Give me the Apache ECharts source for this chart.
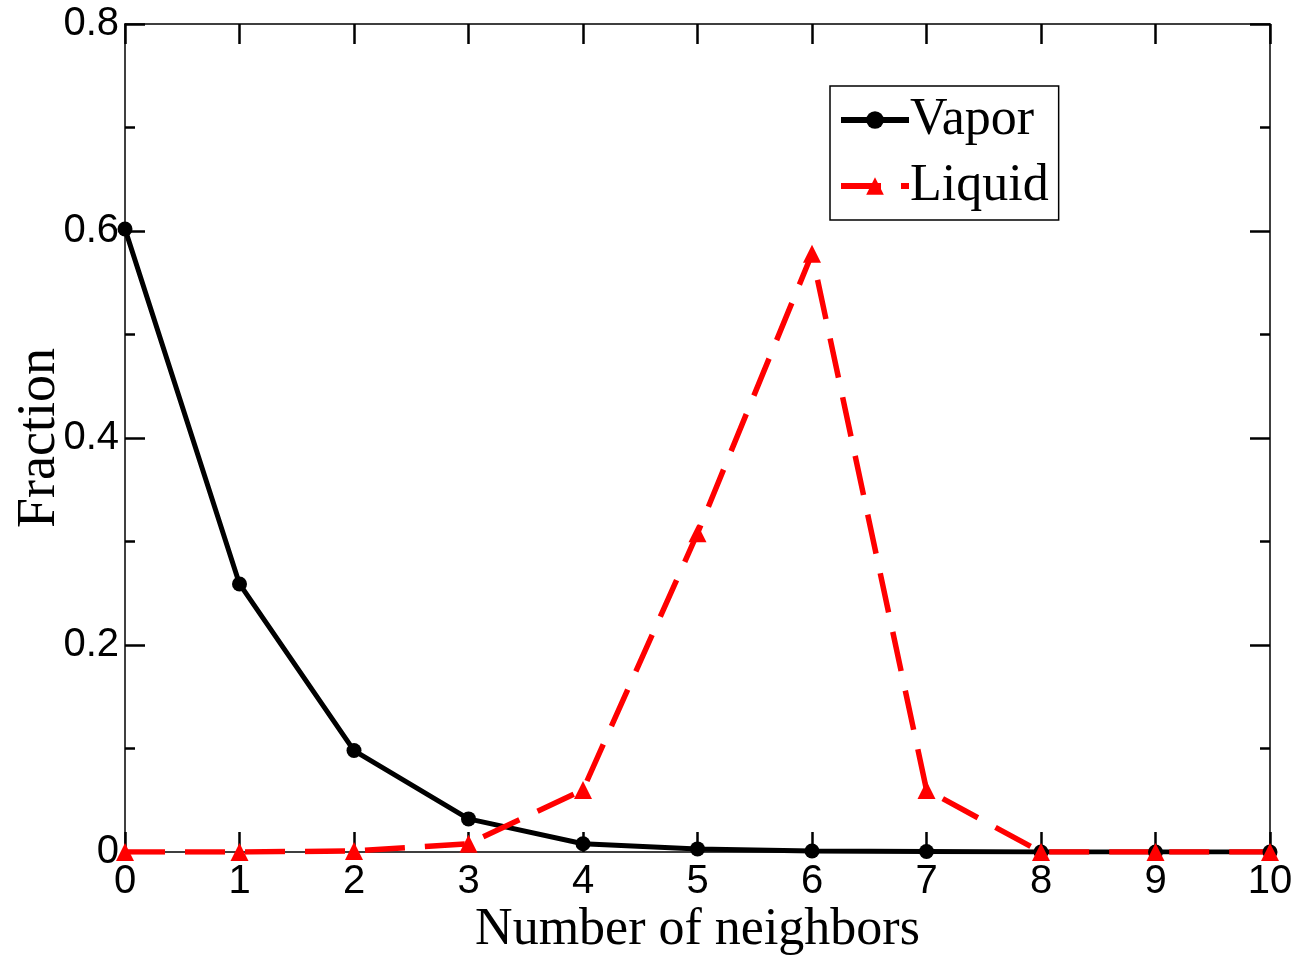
<!DOCTYPE html>
<html>
<head>
<meta charset="utf-8">
<script src="https://cdn.jsdelivr.net/npm/echarts@6/dist/echarts.min.js"></script>
<style>html,body{margin:0;padding:0;background:#fff}#chart{width:1295px;height:957px}</style>
</head>
<body>
<div id="chart"></div>
<script>
const neighbors = [0,1,2,3,4,5,6,7,8,9,10];
const vapor  = [0.602, 0.259, 0.098, 0.032, 0.008, 0.003, 0.001, 0.0005, 0, 0, 0];
const liquid = [0, 0, 0.001, 0.008, 0.060, 0.308, 0.578, 0.060, 0, 0, 0];
const xTitle = 'Number of neighbors';
const yTitle = 'Fraction';

const chart = echarts.init(document.getElementById('chart'));
const yFmt = v => v === 0 ? '0' : v.toFixed(1);
const axisLine = {show: true, onZero: false, lineStyle: {color: '#000', width: 1.5}};
const tickStyle = {color: '#000', width: 2.5};
chart.setOption({
  animation: false,
  backgroundColor: '#fff',
  grid: {left: 125, right: 25, top: 24, bottom: 105, containLabel: false, outerBoundsMode: 'none'},
  legend: {
    orient: 'vertical', left: 830, top: 86,
    borderColor: '#000', borderWidth: 1.5, padding: [8, 10, 8, 8],
    itemWidth: 68, itemHeight: 22, itemGap: 14,
    lineStyle: {width: 6},
    textStyle: {fontFamily: 'Liberation Serif', fontSize: 52, color: '#000', padding: [0,0,0,-4]},
    data: ['Vapor', 'Liquid']
  },
  xAxis: [{
    type: 'value', min: 0, max: 10, interval: 1, position: 'bottom',
    name: xTitle, nameLocation: 'middle', nameGap: 52, nameMoveOverlap: false,
    nameTextStyle: {fontFamily: 'Liberation Serif', fontSize: 52, color: '#000'},
    axisLine: axisLine,
    axisTick: {show: true, inside: true, length: 20, lineStyle: tickStyle},
    axisLabel: {fontFamily: 'Liberation Sans', fontSize: 40, color: '#000', margin: 10},
    splitLine: {show: false}
  }, {
    type: 'value', min: 0, max: 10, interval: 1, position: 'top',
    axisLine: axisLine,
    axisTick: {show: true, inside: true, length: 20, lineStyle: tickStyle},
    axisLabel: {show: false}, splitLine: {show: false}
  }],
  yAxis: [{
    type: 'value', min: 0, max: 0.8, interval: 0.2, position: 'left',
    name: yTitle, nameLocation: 'middle', nameGap: 58, nameRotate: 90, nameMoveOverlap: false,
    nameTextStyle: {fontFamily: 'Liberation Serif', fontSize: 54, color: '#000'},
    axisLine: axisLine,
    axisTick: {show: true, inside: true, length: 20, lineStyle: tickStyle},
    minorTick: {show: true, splitNumber: 2, length: 10, lineStyle: tickStyle},
    axisLabel: {fontFamily: 'Liberation Sans', fontSize: 40, color: '#000', margin: 6, formatter: yFmt},
    splitLine: {show: false}
  }, {
    type: 'value', min: 0, max: 0.8, interval: 0.2, position: 'right',
    axisLine: axisLine,
    axisTick: {show: true, inside: true, length: 20, lineStyle: tickStyle},
    minorTick: {show: true, splitNumber: 2, length: 10, lineStyle: tickStyle},
    axisLabel: {show: false}, splitLine: {show: false}
  }],
  series: [{
    name: 'Vapor', type: 'line', xAxisIndex: 0, yAxisIndex: 0,
    data: neighbors.map((x, i) => [x, vapor[i]]),
    symbol: 'circle', symbolSize: 15,
    itemStyle: {color: '#000'},
    lineStyle: {color: '#000', width: 5}
  }, {
    name: 'Liquid', type: 'line', xAxisIndex: 0, yAxisIndex: 0,
    data: neighbors.map((x, i) => [x, liquid[i]]),
    symbol: 'triangle', symbolSize: 18,
    itemStyle: {color: '#ff0000'},
    lineStyle: {color: '#ff0000', width: 5.5, type: [40, 20]}
  }]
});
</script>
</body>
</html>
